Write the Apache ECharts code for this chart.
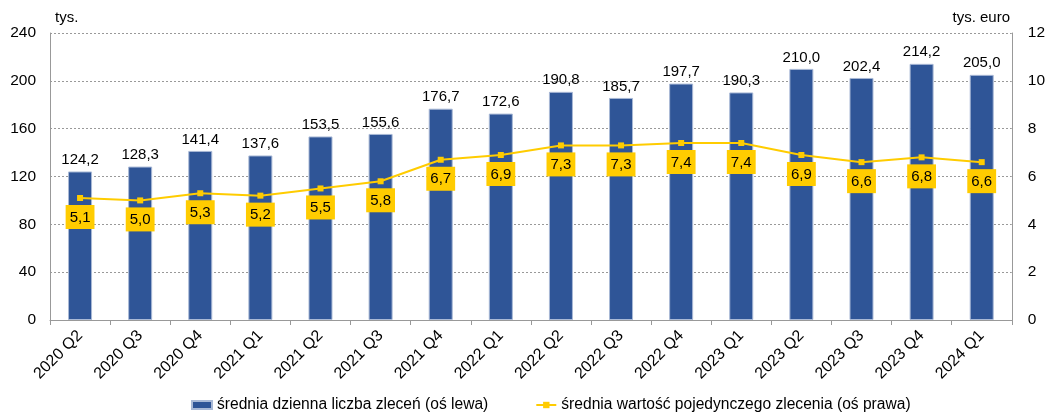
<!DOCTYPE html>
<html>
<head>
<meta charset="utf-8">
<script src="https://cdn.jsdelivr.net/npm/echarts@6/dist/echarts.min.js"></script>
<style>
  html, body { margin: 0; padding: 0; background: #fff; }
  #chart { width: 1048px; height: 414px; }
</style>
</head>
<body>
<div id="chart"></div>
<script>
// kwartały
var quarters = [
  "2020 Q2", "2020 Q3", "2020 Q4", "2021 Q1", "2021 Q2", "2021 Q3", "2021 Q4", "2022 Q1",
  "2022 Q2", "2022 Q3", "2022 Q4", "2023 Q1", "2023 Q2", "2023 Q3", "2023 Q4", "2024 Q1"
];
// średnia dzienna liczba zleceń (tys.)
var ordersCount = [124.2, 128.3, 141.4, 137.6, 153.5, 155.6, 176.7, 172.6,
  190.8, 185.7, 197.7, 190.3, 210.0, 202.4, 214.2, 205.0];
// średnia wartość pojedynczego zlecenia (tys. euro)
var orderValue = [5.1, 5.0, 5.3, 5.2, 5.5, 5.8, 6.7, 6.9,
  7.3, 7.3, 7.4, 7.4, 6.9, 6.6, 6.8, 6.6];

var font = "Liberation Sans, Arial, sans-serif";
var fmt = function (v) { return v.toFixed(1).replace(".", ","); };

var chart = echarts.init(document.getElementById("chart"));
var option = {
  animation: false,
  textStyle: { fontFamily: font },
  grid: { left: 50, right: 35, top: 33, bottom: 94 },
  legend: {
    top: 397,
    left: 191,
    padding: 0,
    itemGap: 47,
    itemWidth: 20,
    itemHeight: 8,
    textStyle: { fontSize: 15.6, color: "#000", fontFamily: font },
    data: [
      { name: "średnia dzienna liczba zleceń (oś lewa)", icon: "rect" },
      { name: "średnia wartość pojedynczego zlecenia (oś prawa)" }
    ]
  },
  graphic: [
    { type: "text", left: 55, top: 10, style: { text: "tys.", fontSize: 15, fontFamily: font, fill: "#000" } },
    { type: "text", right: 38, top: 10, style: { text: "tys. euro", fontSize: 15, fontFamily: font, fill: "#000" } }
  ],
  xAxis: {
    type: "category",
    data: quarters,
    axisLine: { lineStyle: { color: "#999" } },
    axisTick: { show: true, length: 5, lineStyle: { color: "#999" } },
    axisLabel: { rotate: 45, fontSize: 16, color: "#000", margin: 13, fontFamily: font }
  },
  yAxis: [
    {
      type: "value", min: 0, max: 240, interval: 40,
      axisLine: { show: true, lineStyle: { color: "#999" } },
      axisTick: { show: false },
      axisLabel: { fontSize: 15.5, color: "#000", margin: 14, fontFamily: font },
      splitLine: { lineStyle: { color: "#999", type: [2, 2] } }
    },
    {
      type: "value", min: 0, max: 12, interval: 2,
      axisLine: { show: true, lineStyle: { color: "#999" } },
      axisTick: { show: false },
      axisLabel: { fontSize: 15.5, color: "#000", margin: 16, fontFamily: font },
      splitLine: { show: false }
    }
  ],
  series: [
    {
      name: "średnia dzienna liczba zleceń (oś lewa)",
      type: "bar",
      yAxisIndex: 0,
      barWidth: 24,
      data: ordersCount,
      itemStyle: { color: "#2F5597", borderColor: "#A9B9D6", borderWidth: 1 },
      label: {
        show: true, position: "top", distance: 4, fontSize: 15, color: "#000", fontFamily: font,
        formatter: function (p) { return fmt(p.value); }
      }
    },
    {
      name: "średnia wartość pojedynczego zlecenia (oś prawa)",
      type: "line",
      yAxisIndex: 1,
      data: orderValue,
      symbol: "rect",
      symbolSize: 6,
      color: "#FFCC00",
      lineStyle: { color: "#FFCC00", width: 2 },
      itemStyle: { color: "#FFCC00" },
      label: {
        show: true, position: "bottom", distance: 4, fontSize: 15, color: "#000", fontFamily: font,
        backgroundColor: "#FFCC00", padding: [5, 4, 4, 4],
        formatter: function (p) { return fmt(p.value); }
      },
      z: 5
    }
  ]
};
chart.setOption(option);
</script>
</body>
</html>
